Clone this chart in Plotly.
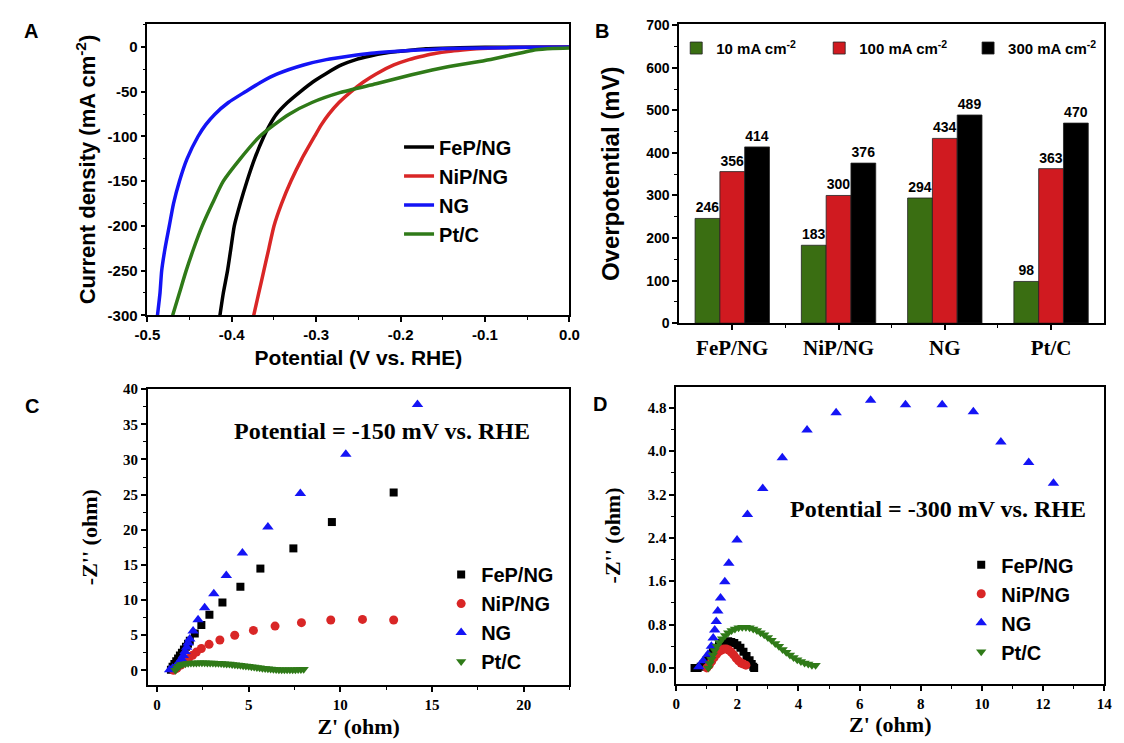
import plotly.graph_objects as go

# ---------------- Panel A: LSV curves ----------------
pot_fep = [-0.414, -0.410, -0.405, -0.401, -0.397, -0.390, -0.382, -0.373, -0.362, -0.355, -0.347, -0.334, -0.319,
           -0.304, -0.289, -0.270, -0.253, -0.236, -0.220, -0.203, -0.185, -0.170, -0.130, -0.100, -0.050, 0.0]
j_fep = [-300, -275, -250, -225, -200, -175, -150, -125, -100, -87, -75, -62, -50,
         -39, -30, -20, -14, -10, -7, -5, -3.2, -2, -0.8, -0.3, -0.1, 0]
pot_nip = [-0.374, -0.368, -0.362, -0.356, -0.350, -0.341, -0.330, -0.317, -0.302, -0.294, -0.285, -0.273, -0.259,
           -0.244, -0.229, -0.208, -0.190, -0.173, -0.158, -0.144, -0.127, -0.110, -0.080, -0.040, 0.0]
j_nip = [-300, -275, -250, -225, -200, -175, -150, -125, -100, -87, -75, -62, -50,
         -39, -30, -20, -14, -10, -7, -5, -3.3, -2, -0.8, -0.2, 0]
pot_ng = [-0.488, -0.485, -0.483, -0.479, -0.474, -0.469, -0.462, -0.453, -0.440, -0.431, -0.420, -0.404, -0.384,
          -0.365, -0.346, -0.315, -0.288, -0.260, -0.235, -0.208, -0.180, -0.150, -0.100, -0.050, 0.0]
j_ng = [-300, -275, -250, -225, -200, -175, -150, -125, -100, -87, -75, -62, -50,
        -39, -30, -20, -14, -10, -7, -5, -3.3, -2, -1, -0.3, 0]
pot_pt = [-0.470, -0.462, -0.454, -0.445, -0.435, -0.423, -0.410, -0.390, -0.367, -0.350, -0.332, -0.305, -0.272,
          -0.229, -0.187, -0.144, -0.100, -0.075, -0.055, -0.040, -0.020, 0.0]
j_pt = [-300, -275, -250, -225, -200, -175, -150, -125, -100, -87, -75, -62, -51,
        -41, -31, -22, -15, -10, -6, -3, -1.5, -1]
a_xticks = [-0.5, -0.4, -0.3, -0.2, -0.1, 0.0]
a_xticktext = ["-0.5", "-0.4", "-0.3", "-0.2", "-0.1", "0.0"]
a_yticks = [-300, -250, -200, -150, -100, -50, 0]
a_yticktext = ["-300", "-250", "-200", "-150", "-100", "-50", "0"]

# ---------------- Panel B: overpotential bars ----------------
categories = ["FeP/NG", "NiP/NG", "NG", "Pt/C"]
eta_10 = [246, 183, 294, 98]
eta_100 = [356, 300, 434, 363]
eta_300 = [414, 376, 489, 470]
b_series = ["10 mA cm<sup>-2</sup>", "100 mA cm<sup>-2</sup>", "300 mA cm<sup>-2</sup>"]

# ---------------- Panel C: Nyquist at -150 mV ----------------
c_fep_x = [0.76, 0.85, 0.95, 1.05, 1.15, 1.25, 1.36, 1.47, 1.58, 1.69, 1.79, 2.06, 2.42, 2.86, 3.57, 4.55, 5.64, 7.44, 9.54, 12.91]
c_fep_y = [0.1, 0.5, 0.9, 1.3, 1.7, 2.1, 2.5, 2.95, 3.35, 3.8, 4.2, 5.26, 6.46, 7.9, 9.67, 11.88, 14.48, 17.35, 21.1, 25.29]
c_nip_x = [0.9, 1.08, 1.3, 1.53, 1.72, 1.94, 2.15, 2.42, 2.84, 3.43, 4.24, 5.26, 6.44, 7.88, 9.48, 11.21, 12.91]
c_nip_y = [0.0, 0.28, 0.74, 1.21, 1.67, 2.14, 2.6, 3.1, 3.7, 4.32, 5.0, 5.68, 6.3, 6.79, 7.16, 7.25, 7.16]
c_ng_x = [0.69, 0.85, 1.0, 1.1, 1.22, 1.33, 1.44, 1.53, 1.62, 1.70, 1.79, 1.97, 2.24, 2.6, 3.1, 3.78, 4.66, 6.05, 7.82, 10.3, 14.21]
c_ng_y = [0.1, 0.3, 0.5, 0.8, 1.2, 1.65, 2.1, 2.7, 3.3, 3.9, 4.46, 5.6, 7.2, 8.9, 10.9, 13.5, 16.7, 20.4, 25.15, 30.73, 37.84]
c_pt_x = [1.00, 1.10, 1.20, 1.30, 1.40, 1.55, 1.70, 1.85, 2.00, 2.15, 2.30, 2.45, 2.60, 2.75, 2.90, 3.05, 3.20, 3.35,
          3.50, 3.65, 3.80, 3.95, 4.10, 4.25, 4.40, 4.55, 4.70, 4.85, 5.00, 5.15, 5.30, 5.45, 5.60, 5.75, 5.90, 6.05,
          6.20, 6.35, 6.50, 6.65, 6.80, 6.95, 7.10, 7.25, 7.40, 7.55, 7.70, 7.85, 8.00]
c_pt_y = [0.00, 0.35, 0.60, 0.78, 0.88, 0.95, 1.00, 1.03, 1.05, 1.06, 1.07, 1.07, 1.07, 1.06, 1.05, 1.04, 1.02, 1.00,
          0.98, 0.95, 0.92, 0.89, 0.85, 0.81, 0.77, 0.72, 0.67, 0.62, 0.57, 0.52, 0.46, 0.41, 0.36, 0.31, 0.26, 0.22,
          0.18, 0.15, 0.12, 0.10, 0.09, 0.08, 0.08, 0.08, 0.09, 0.10, 0.11, 0.13, 0.15]

# ---------------- Panel D: Nyquist at -300 mV ----------------
d_fep_x = [0.60, 0.70, 0.80, 0.90, 1.00, 1.10, 1.20, 1.30, 1.40, 1.50, 1.60, 1.70, 1.80, 1.90, 2.00, 2.10, 2.20, 2.30, 2.40, 2.47, 2.52, 2.55]
d_fep_y = [0.00, 0.00, 0.02, 0.07, 0.14, 0.22, 0.30, 0.37, 0.42, 0.46, 0.48, 0.49, 0.48, 0.46, 0.42, 0.37, 0.30, 0.22, 0.14, 0.07, 0.02, 0.00]
d_nip_x = [1.00, 1.08, 1.16, 1.24, 1.32, 1.40, 1.48, 1.56, 1.64, 1.72, 1.80, 1.88, 1.96, 2.04, 2.12, 2.20, 2.28]
d_nip_y = [0.00, 0.05, 0.12, 0.19, 0.25, 0.30, 0.33, 0.35, 0.35, 0.33, 0.29, 0.24, 0.18, 0.13, 0.09, 0.07, 0.05]
d_ng_x = [0.74, 0.88, 1.04, 1.15, 1.21, 1.26, 1.31, 1.36, 1.45, 1.59, 1.72, 1.99, 2.33, 2.83, 3.47, 4.28, 5.23, 6.36, 7.5, 8.7, 9.72, 10.62, 11.53, 12.34]
d_ng_y = [0.02, 0.13, 0.25, 0.40, 0.55, 0.70, 0.855, 1.05, 1.29, 1.59, 1.93, 2.36, 2.83, 3.31, 3.88, 4.39, 4.71, 4.94, 4.86, 4.86, 4.73, 4.17, 3.79, 3.41]
d_pt_x = [1.05, 1.10, 1.15, 1.20, 1.26, 1.33, 1.41, 1.50, 1.60, 1.70, 1.81, 1.92, 2.04, 2.16, 2.28, 2.40, 2.52, 2.64,
          2.76, 2.88, 3.00, 3.12, 3.24, 3.36, 3.48, 3.60, 3.72, 3.84, 3.96, 4.08, 4.20, 4.32, 4.44, 4.56]
d_pt_y = [0.00, 0.08, 0.16, 0.24, 0.32, 0.40, 0.47, 0.54, 0.60, 0.65, 0.69, 0.72, 0.74, 0.75, 0.75, 0.74, 0.72, 0.69,
          0.65, 0.61, 0.56, 0.51, 0.45, 0.40, 0.34, 0.29, 0.24, 0.19, 0.15, 0.12, 0.09, 0.07, 0.05, 0.05]
d_yticks = [0.0, 0.8, 1.6, 2.4, 3.2, 4.0, 4.8]
d_yticktext = ["0.0", "0.8", "1.6", "2.4", "3.2", "4.0", "4.8"]

series_names = ["FeP/NG", "NiP/NG", "NG", "Pt/C"]

# ---------------- styling ----------------
OFF = 8                      # page body margin of the browser
W, H = 1124 - OFF, 743 - OFF
BLACK, RED, BLUE, GREEN = "#000000", "#d92626", "#1414f5", "#2f7a18"
BAR_GREEN, BAR_RED = "#3a6e12", "#d01a20"
SANS = "Arial, Liberation Sans, sans-serif"
SERIF = "Times New Roman, Liberation Serif, serif"


def px_x(p):
    return (p - OFF) / W


def px_y(p):
    return 1 - (p - OFF) / H


fig = go.Figure()

# Panel A
for xs, ys, name, col in [(pot_fep, j_fep, series_names[0], BLACK), (pot_nip, j_nip, series_names[1], RED),
                          (pot_ng, j_ng, series_names[2], BLUE), (pot_pt, j_pt, series_names[3], GREEN)]:
    fig.add_trace(go.Scatter(x=xs, y=ys, mode="lines", name=name,
                             line=dict(color=col, width=3.5, shape="spline", smoothing=0.6),
                             xaxis="x", yaxis="y", legend="legend"))

# Panel B
b_pos = list(range(len(categories)))
for vals, name, col, lg in [(eta_10, b_series[0], BAR_GREEN, "legend2"), (eta_100, b_series[1], BAR_RED, "legend3"),
                            (eta_300, b_series[2], BLACK, "legend4")]:
    fig.add_trace(go.Bar(x=b_pos, y=vals, name=name, marker=dict(color=col, line=dict(color="#222222", width=0.8)),
                         text=[str(v) for v in vals], textposition="outside", cliponaxis=False,
                         textfont=dict(family=SANS, size=14, color="black", weight="bold"),
                         xaxis="x2", yaxis="y2", legend=lg))

# Panel C
for xs, ys, name, col, sym, sz in [(c_fep_x, c_fep_y, series_names[0], BLACK, "square", 8),
                                   (c_nip_x, c_nip_y, series_names[1], RED, "circle", 9),
                                   (c_ng_x, c_ng_y, series_names[2], BLUE, "triangle-up", 10),
                                   (c_pt_x, c_pt_y, series_names[3], GREEN, "triangle-down", 9)]:
    fig.add_trace(go.Scatter(x=xs, y=ys, mode="markers", name=name,
                             marker=dict(symbol=sym, size=sz, color=col),
                             xaxis="x3", yaxis="y3", legend="legend5"))

# Panel D
for xs, ys, name, col, sym, sz in [(d_fep_x, d_fep_y, series_names[0], BLACK, "square", 8),
                                   (d_nip_x, d_nip_y, series_names[1], RED, "circle", 9),
                                   (d_ng_x, d_ng_y, series_names[2], BLUE, "triangle-up", 10),
                                   (d_pt_x, d_pt_y, series_names[3], GREEN, "triangle-down", 9)]:
    fig.add_trace(go.Scatter(x=xs, y=ys, mode="markers", name=name,
                             marker=dict(symbol=sym, size=sz, color=col),
                             xaxis="x4", yaxis="y4", legend="legend6"))

axis_common = dict(showline=True, linecolor="black", linewidth=1.5, mirror=True, ticks="outside",
                   ticklen=5, tickwidth=1.5, tickcolor="black", showgrid=False, zeroline=False)
minor_common = dict(ticks="outside", ticklen=3, tickwidth=1.2, tickcolor="black", showgrid=False)

sans_tick = dict(family=SANS, size=15, color="black", weight="bold")
serif_tick = dict(family=SERIF, size=15, color="black", weight="bold")

fig.update_layout(
    width=W, height=H, margin=dict(l=0, r=0, t=0, b=0),
    paper_bgcolor="white", plot_bgcolor="white",
    barmode="group", bargap=0.3, bargroupgap=0.0,
    # A
    xaxis=dict(domain=[px_x(137), px_x(568)], anchor="y", range=[-0.5, 0.0],
               tickvals=a_xticks, ticktext=a_xticktext, tickfont=sans_tick,
               minor=dict(dtick=0.05, tick0=0, **minor_common),
               title=dict(text="Potential (V vs. RHE)", font=dict(family=SANS, size=21, color="black", weight="bold"), standoff=8),
               **axis_common),
    yaxis=dict(domain=[px_y(314), px_y(16)], anchor="x", range=[-300, 26],
               tickvals=a_yticks, ticktext=a_yticktext, tickfont=sans_tick,
               minor=dict(dtick=25, tick0=0, **minor_common),
               title=dict(text="Current density (mA cm<sup>-2</sup>)", font=dict(family=SANS, size=22, color="black", weight="bold"), standoff=6),
               **axis_common),
    # B
    xaxis2=dict(domain=[px_x(680), px_x(1114)], anchor="y2", range=[-0.5, 3.5],
                tickvals=b_pos, ticktext=categories, tickfont=dict(family=SERIF, size=21, color="black", weight="bold"),
                minor=dict(tickvals=[0.5, 1.5, 2.5], **minor_common),
                **axis_common),
    yaxis2=dict(domain=[px_y(322), px_y(16.5)], anchor="x2", range=[0, 702],
                dtick=100, tick0=0, tickfont=dict(family=SANS, size=14, color="black", weight="bold"),
                minor=dict(dtick=50, tick0=0, **minor_common),
                title=dict(text="Overpotential (mV)", font=dict(family=SANS, size=24, color="black", weight="bold"), standoff=20),
                **axis_common),
    # C
    xaxis3=dict(domain=[px_x(137.5), px_x(568)], anchor="y3", range=[-0.5, 22.5],
                dtick=5, tick0=0, tickfont=serif_tick,
                minor=dict(dtick=2.5, tick0=0, **minor_common),
                title=dict(text="Z' (ohm)", font=dict(family=SERIF, size=22, color="black", weight="bold"), standoff=7),
                **axis_common),
    yaxis3=dict(domain=[px_y(692), px_y(389.5)], anchor="x3", range=[-2.1, 40],
                dtick=5, tick0=0, tickfont=serif_tick,
                minor=dict(dtick=2.5, tick0=0, **minor_common),
                title=dict(text="-Z'' (ohm)", font=dict(family=SERIF, size=22, color="black", weight="bold"), standoff=19),
                **axis_common),
    # D
    xaxis4=dict(domain=[px_x(677), px_x(1114)], anchor="y4", range=[0, 14],
                dtick=2, tick0=0, tickfont=serif_tick,
                minor=dict(dtick=1, tick0=0, **minor_common),
                title=dict(text="Z' (ohm)", font=dict(family=SERIF, size=22, color="black", weight="bold"), standoff=5),
                **axis_common),
    yaxis4=dict(domain=[px_y(691), px_y(387)], anchor="x4", range=[-0.3, 5.19],
                tickvals=d_yticks, ticktext=d_yticktext, tickfont=serif_tick,
                minor=dict(dtick=0.4, tick0=0, **minor_common),
                title=dict(text="-Z'' (ohm)", font=dict(family=SERIF, size=22, color="black", weight="bold"), standoff=21),
                **axis_common),
)

leg_common = dict(bgcolor="rgba(0,0,0,0)", borderwidth=0, tracegroupgap=0, xanchor="left", yanchor="middle")
fig.update_layout(
    legend=dict(x=px_x(394), y=px_y(186.5), font=dict(family=SANS, size=20, color="black", weight="bold"), **leg_common),
    legend2=dict(x=px_x(677), y=px_y(41), font=dict(family=SANS, size=15, color="black", weight="bold"), **leg_common),
    legend3=dict(x=px_x(823), y=px_y(41), font=dict(family=SANS, size=15, color="black", weight="bold"), **leg_common),
    legend4=dict(x=px_x(975), y=px_y(41), font=dict(family=SANS, size=15, color="black", weight="bold"), **leg_common),
    legend5=dict(x=px_x(437), y=px_y(623.5), font=dict(family=SANS, size=20, color="black", weight="bold"), **leg_common),
    legend6=dict(x=px_x(968), y=px_y(613.4), font=dict(family=SANS, size=20, color="black", weight="bold"), **leg_common),
)

ann_font = dict(family=SANS, size=20, color="black", weight="bold")
annotations = [
    dict(text="A", x=px_x(18.5), y=px_y(23), font=ann_font),
    dict(text="B", x=px_x(601), y=px_y(23), font=ann_font),
    dict(text="C", x=px_x(19.5), y=px_y(407), font=ann_font),
    dict(text="D", x=px_x(599), y=px_y(405), font=ann_font),
    dict(text="Potential = -150 mV vs. RHE", x=px_x(377), y=px_y(432),
         font=dict(family=SERIF, size=24, color="black", weight="bold")),
    dict(text="Potential = -300 mV vs. RHE", x=px_x(944), y=px_y(512),
         font=dict(family=SERIF, size=24, color="black", weight="bold")),
]
for a in annotations:
    a.update(xref="paper", yref="paper", showarrow=False, xanchor="center", yanchor="middle")
fig.update_layout(annotations=annotations)

fig.write_html("out.html")
